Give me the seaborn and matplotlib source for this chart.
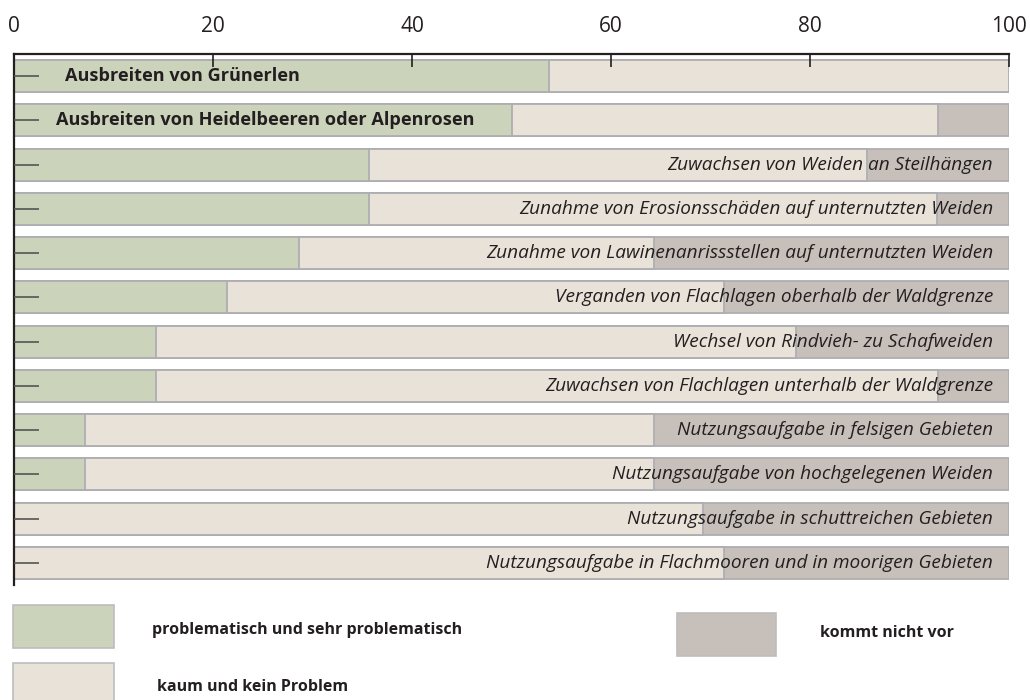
import numpy as np
import pandas as pd
import matplotlib
matplotlib.use("Agg")
import matplotlib.pyplot as plt
from matplotlib.patches import Rectangle
import seaborn as sns

# Data (percent of answers)
labels = [
    "Ausbreiten von Grünerlen",
    "Ausbreiten von Heidelbeeren oder Alpenrosen",
    "Zuwachsen von Weiden an Steilhängen",
    "Zunahme von Erosionsschäden auf unternutzten Weiden",
    "Zunahme von Lawinenanrissstellen auf unternutzten Weiden",
    "Verganden von Flachlagen oberhalb der Waldgrenze",
    "Wechsel von Rindvieh- zu Schafweiden",
    "Zuwachsen von Flachlagen unterhalb der Waldgrenze",
    "Nutzungsaufgabe in felsigen Gebieten",
    "Nutzungsaufgabe von hochgelegenen Weiden",
    "Nutzungsaufgabe in schuttreichen Gebieten",
    "Nutzungsaufgabe in Flachmooren und in moorigen Gebieten",
]
problematisch = [53.8, 50.0, 35.7, 35.7, 28.6, 21.4, 14.3, 14.3, 7.1, 7.1, 0.0, 0.0]
kaum = [46.2, 42.9, 50.0, 57.1, 35.7, 50.0, 64.3, 78.6, 57.2, 57.2, 69.2, 71.4]
kommt_nicht = [0.0, 7.1, 14.3, 7.2, 35.7, 28.6, 21.4, 7.1, 35.7, 35.7, 30.8, 28.6]
bold_rows = [0, 1]

legend_labels = ["problematisch und sehr problematisch", "kaum und kein Problem", "kommt nicht vor"]
xticks = [0, 20, 40, 60, 80, 100]

GREEN = "#cbd3ba"
BEIGE = "#e8e2d8"
GREY = "#c7c0ba"
EDGE = "#aeaeb2"
TEXT = "#231f20"

df = pd.DataFrame({"label": labels, "p": problematisch, "k": kaum, "n": kommt_nicht})
df["cum_k"] = df["p"] + df["k"]
df["cum_n"] = df["cum_k"] + df["n"]

sns.set_style("white")
plt.rcParams["font.family"] = ["Open Sans", "DejaVu Sans"]

fig = plt.figure(figsize=(10.3, 7), dpi=100)
ax = fig.add_axes([14 / 1030, 1 - 585 / 700, 995 / 1030, 531 / 700])

# stacked bars drawn as overlapping cumulative bars
for col, color in [("cum_n", GREY), ("cum_k", BEIGE), ("p", GREEN)]:
    sns.barplot(data=df, x=col, y="label", orient="h", color=color,
                edgecolor=EDGE, linewidth=1.3, width=0.72, ax=ax, saturation=1)

for i, lab in enumerate(labels):
    if i in bold_rows:
        ax.text(5.1 if i == 0 else 4.2, i, lab, ha="left", va="center",
                fontsize=13.1, fontweight="bold", color=TEXT)
    else:
        ax.text(98.4, i, lab, ha="right", va="center",
                fontsize=13.7, fontstyle="italic", color=TEXT)

ax.set_axisbelow(False)
ax.set_xlim(0, 100)
ax.set_ylim(len(labels) - 0.5, -0.5)
ax.set_xlabel("")
ax.set_ylabel("")
ax.set_yticklabels([])
ax.set_xticks(xticks)
ax.xaxis.tick_top()
ax.tick_params(axis="x", direction="in", length=9.5, width=1.2, color=TEXT,
               labelsize=15, labelcolor=TEXT, pad=12)
ax.tick_params(axis="y", direction="in", length=18, width=1.2, color="#555555", left=True)
for side in ["right", "bottom"]:
    ax.spines[side].set_visible(False)
for side in ["top", "left"]:
    ax.spines[side].set_color(TEXT)
    ax.spines[side].set_linewidth(1.6)

# legend boxes in pixel coords of the figure
def px_rect(x0, y0, x1, y1, color):
    fig.patches.append(Rectangle((x0 / 1030, 1 - y1 / 700), (x1 - x0) / 1030, (y1 - y0) / 700,
                                 transform=fig.transFigure, facecolor=color,
                                 edgecolor="#bdbdc0", linewidth=1.2))

px_rect(13, 605, 114, 648, GREEN)
px_rect(13, 663, 114, 706, BEIGE)
px_rect(677, 613, 776, 656, GREY)
fig.text(152 / 1030, 1 - 630 / 700, legend_labels[0], ha="left", va="center",
         fontsize=11.5, fontweight="bold", color=TEXT)
fig.text(157 / 1030, 1 - 687 / 700, legend_labels[1], ha="left", va="center",
         fontsize=11.5, fontweight="bold", color=TEXT)
fig.text(820 / 1030, 1 - 633 / 700, legend_labels[2], ha="left", va="center",
         fontsize=11.5, fontweight="bold", color=TEXT)

fig.savefig("out.png", dpi=100)
